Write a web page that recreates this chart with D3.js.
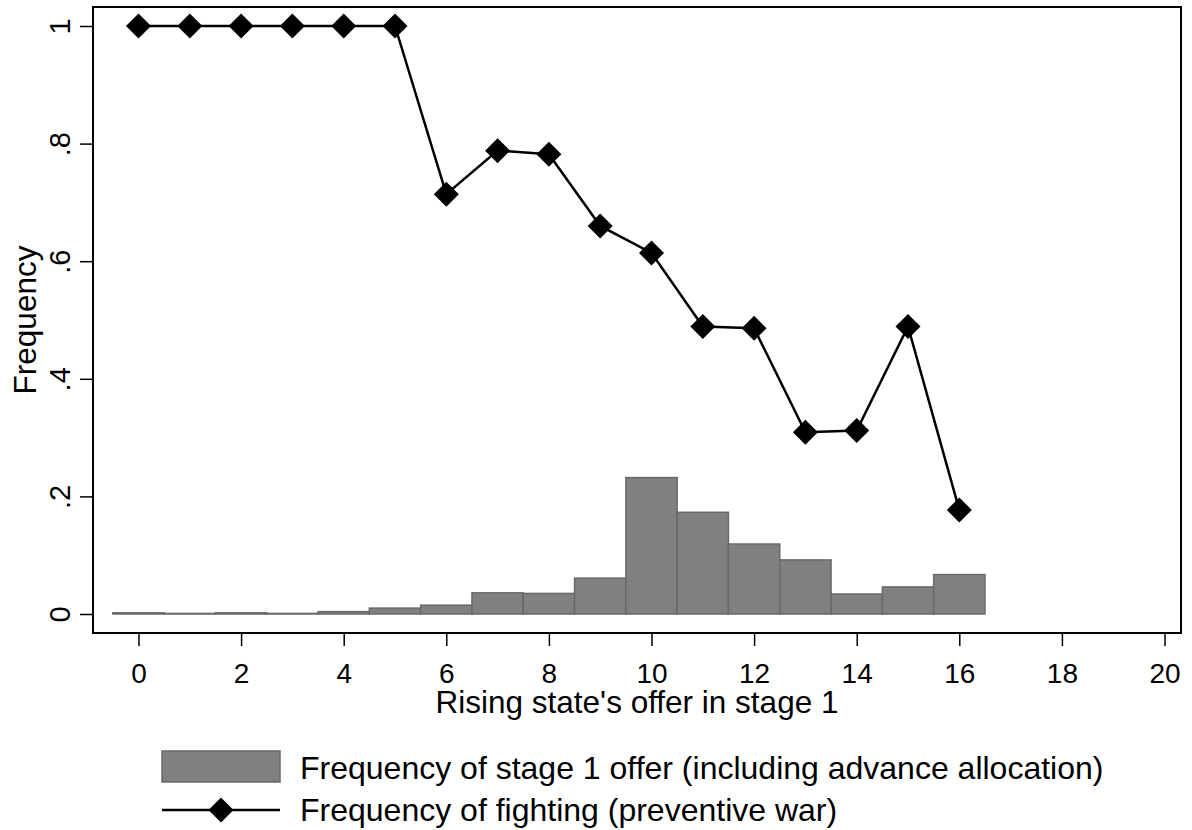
<!DOCTYPE html>
<html>
<head>
<meta charset="utf-8">
<script src="https://cdn.jsdelivr.net/npm/d3@7"></script>
<style>
  html, body { margin: 0; padding: 0; background: #fff; }
  svg { display: block; font-family: "Liberation Sans", Arial, sans-serif; }
</style>
</head>
<body>
<svg id="chart" width="1192" height="830"></svg>
<script>
// ---- data ----
const offers = [0,1,2,3,4,5,6,7,8,9,10,11,12,13,14,15,16];
const offerFreq = [0.002,0.001,0.002,0.001,0.004,0.010,0.015,0.036,0.035,0.061,0.232,0.173,0.119,0.092,0.034,0.046,0.067];
const fightFreq = [1,1,1,1,1,1,0.714,0.788,0.782,0.660,0.614,0.489,0.486,0.309,0.312,0.489,0.177];
const xTicks = [0,2,4,6,8,10,12,14,16,18,20];
const yTicks = [0,0.2,0.4,0.6,0.8,1];
const yTickLabels = ["0",".2",".4",".6",".8","1"];
const xTitle = "Rising state's offer in stage 1";
const yTitle = "Frequency";
const legendLabels = ["Frequency of stage 1 offer (including advance allocation)",
                      "Frequency of fighting (preventive war)"];

// ---- layout ----
const svg = d3.select("#chart");
const frame = {x0: 93, x1: 1181, y0: 7, y1: 633};
const x = d3.scaleLinear().domain([0, 20]).range([138.5, 1164.5]);
const y = d3.scaleLinear().domain([0, 1]).range([614, 26]);

const barFill = "#808080", barStroke = "#696969";

// bars
svg.append("g").selectAll("rect").data(offers).join("rect")
  .attr("x", d => x(d - 0.5))
  .attr("width", d => x(d + 0.5) - x(d - 0.5))
  .attr("y", (d, i) => y(offerFreq[i]))
  .attr("height", (d, i) => Math.max(0.6, y(0) - y(offerFreq[i])))
  .attr("fill", barFill)
  .attr("stroke", barStroke)
  .attr("stroke-width", 1.5);

// line
const line = d3.line().x((d, i) => x(offers[i])).y(d => y(d));
svg.append("path").datum(fightFreq)
  .attr("d", line)
  .attr("fill", "none")
  .attr("stroke", "#000")
  .attr("stroke-width", 2.5);

const diamond = (cx, cy, r) => `M${cx},${cy - r}L${cx + r},${cy}L${cx},${cy + r}L${cx - r},${cy}Z`;
svg.append("g").selectAll("path").data(fightFreq).join("path")
  .attr("d", (d, i) => diamond(x(offers[i]), y(d), 12.5))
  .attr("fill", "#000");

// frame
svg.append("rect")
  .attr("x", frame.x0).attr("y", frame.y0)
  .attr("width", frame.x1 - frame.x0).attr("height", frame.y1 - frame.y0)
  .attr("fill", "none").attr("stroke", "#000").attr("stroke-width", 2);

// x axis
const xAxis = d3.axisBottom(x).tickValues(xTicks).tickSize(13).tickPadding(10).tickFormat(d3.format("d"));
const gx = svg.append("g").attr("transform", `translate(0,${frame.y1})`).call(xAxis);
gx.select(".domain").remove();
gx.selectAll(".tick line").attr("stroke", "#000").attr("stroke-width", 1.5);
gx.selectAll(".tick text").attr("font-size", 28).attr("fill", "#000")
  .attr("font-family", "Liberation Sans, Arial, sans-serif").attr("dy", null).attr("y", 50);

// y axis
const yAxis = d3.axisLeft(y).tickValues(yTicks).tickSize(13).tickFormat((d, i) => yTickLabels[i]);
const gy = svg.append("g").attr("transform", `translate(${frame.x0},0)`).call(yAxis);
gy.select(".domain").remove();
gy.selectAll(".tick line").attr("stroke", "#000").attr("stroke-width", 1.5);
gy.selectAll(".tick text")
  .attr("font-size", 29).attr("fill", "#000")
  .attr("font-family", "Liberation Sans, Arial, sans-serif")
  .attr("x", null).attr("dy", null)
  .attr("text-anchor", "middle")
  .attr("transform", "translate(-23,0) rotate(-90)");

// titles
svg.append("text")
  .attr("x", 637).attr("y", 713)
  .attr("text-anchor", "middle").attr("font-size", 31.5).attr("fill", "#000")
  .text(xTitle);
svg.append("text")
  .attr("transform", `translate(36,${(frame.y0 + frame.y1) / 2}) rotate(-90)`)
  .attr("text-anchor", "middle").attr("font-size", 31.5).attr("fill", "#000")
  .text(yTitle);

// legend
const lg = svg.append("g");
lg.append("rect").attr("x", 162).attr("y", 751).attr("width", 118).attr("height", 31)
  .attr("fill", barFill).attr("stroke", barStroke).attr("stroke-width", 1.5);
lg.append("line").attr("x1", 162).attr("x2", 280).attr("y1", 810).attr("y2", 810)
  .attr("stroke", "#000").attr("stroke-width", 2.5);
lg.append("path").attr("d", diamond(221, 810, 12.5)).attr("fill", "#000");
lg.append("text").attr("x", 300).attr("y", 779).attr("font-size", 32).attr("fill", "#000").text(legendLabels[0]);
lg.append("text").attr("x", 300).attr("y", 821).attr("font-size", 32).attr("fill", "#000").text(legendLabels[1]);
</script>
</body>
</html>
